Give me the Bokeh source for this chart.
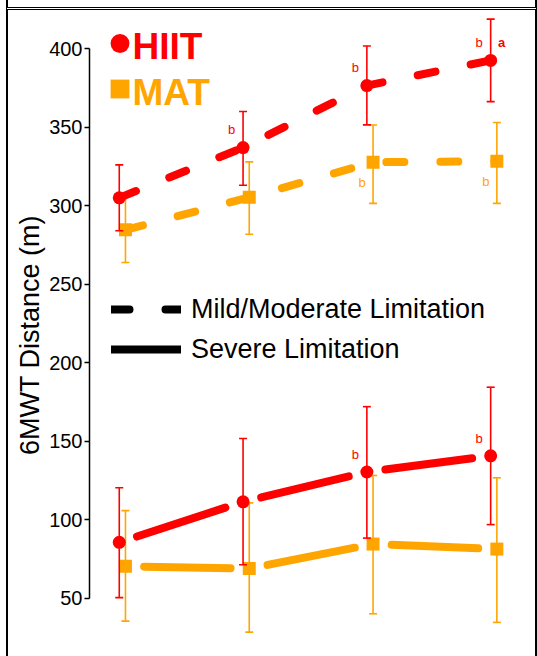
import math
from bokeh.plotting import figure
from bokeh.models import ColumnDataSource, FixedTicker, Legend, LegendItem, Range1d, Label
from bokeh.core.properties import value
from bokeh.embed import file_html
from bokeh.resources import INLINE

# ---------------- data ----------------
times = [1, 2, 3, 4]

mild_hiit = [305.0, 337.0, 376.5, 392.5]
mild_hiit_lo = [284.0, 313.0, 351.5, 366.3]
mild_hiit_hi = [326.0, 360.0, 401.7, 418.8]

mild_mat = [284.6, 305.3, 327.7, 328.3]
mild_mat_lo = [263.8, 281.8, 301.5, 301.5]
mild_mat_hi = [306.0, 327.9, 351.4, 353.0]

sev_hiit = [85.6, 111.4, 130.4, 140.7]
sev_hiit_lo = [50.4, 71.3, 88.3, 96.9]
sev_hiit_hi = [120.4, 151.7, 172.0, 184.4]

sev_mat = [70.3, 68.9, 84.5, 81.3]
sev_mat_lo = [35.4, 28.4, 40.1, 34.6]
sev_mat_hi = [105.8, 110.7, 128.2, 126.7]

mild_hiit_sig = ["", "b", "b", "b"]
mild_hiit_sig_a = ["", "", "", "a"]
mild_mat_sig = ["", "", "b", "b"]
sev_hiit_sig = ["", "", "b", "b"]

y_ticks = [50, 100, 150, 200, 250, 300, 350, 400]
y_label = "6MWT Distance (m)"
group_names = ["HIIT", "MAT"]
limit_names = ["Mild/Moderate Limitation", "Severe Limitation"]

# ---------------- style / layout ----------------
RED = "#FF0000"
ORANGE = "#FFA500"
FONT = "Liberation Sans"
MAT_SHIFT = 0.05

LEFT = 8                   # page x of canvas left edge
TOP = 10                   # page y of canvas top edge
CW = 527                   # canvas width
CH = 656 - TOP             # canvas height
MBL = 89 - LEFT            # space for the y axis
FRAME_W = CW - MBL
FRAME_H = CH
X0 = 1 - (118.5 - 89) / 122.7
X1 = X0 + FRAME_W / 122.7
Y1 = 400 + (48 - TOP) / 1.5629
Y0 = Y1 - FRAME_H / 1.5629
PX_X = FRAME_W / (X1 - X0)
PX_Y = FRAME_H / (Y1 - Y0)

p = figure(width=CW, height=CH, output_backend="svg", toolbar_location=None,
           x_range=Range1d(X0, X1), y_range=Range1d(Y0, Y1),
           x_axis_location=None, min_border_left=MBL, min_border_right=0,
           min_border_top=0, min_border_bottom=0)
p.styles = {"box-sizing": "content-box", "margin-left": "6px", "margin-top": "7px",
            "border-top": "3px double black", "border-left": "2px solid black",
            "border-right": "2px solid black",
            "box-shadow": "0 -9px 0 -2px white, 0 -7px 0 0 black"}
p.outline_line_color = None
p.xgrid.visible = False
p.ygrid.visible = False
p.background_fill_color = "white"
p.border_fill_color = "white"

ax = p.yaxis[0]
ax.ticker = FixedTicker(ticks=y_ticks)
ax.bounds = (min(y_ticks), max(y_ticks))
ax.major_tick_out = 5
ax.major_tick_in = 0
ax.minor_tick_out = 0
ax.minor_tick_in = 0
ax.axis_line_width = 1.5
ax.axis_line_color = "black"
ax.major_tick_line_width = 1.5
ax.major_tick_line_color = "black"
ax.major_label_text_font = FONT
ax.major_label_text_font_size = "20px"
ax.major_label_text_color = "black"
ax.major_label_standoff = 2
ax.axis_label = y_label
ax.axis_label_text_font = FONT
ax.axis_label_text_font_size = "27px"
ax.axis_label_text_font_style = "normal"
ax.axis_label_text_color = "black"
ax.axis_label_standoff = 1


def gapped(xs, ys, gap=18.5):
    x0s, y0s, x1s, y1s = [], [], [], []
    for i in range(len(xs) - 1):
        dx = (xs[i + 1] - xs[i]) * PX_X
        dy = (ys[i + 1] - ys[i]) * PX_Y
        f = gap / math.hypot(dx, dy)
        x0s.append(xs[i] + (xs[i + 1] - xs[i]) * f)
        y0s.append(ys[i] + (ys[i + 1] - ys[i]) * f)
        x1s.append(xs[i + 1] - (xs[i + 1] - xs[i]) * f)
        y1s.append(ys[i + 1] - (ys[i + 1] - ys[i]) * f)
    return dict(x0=x0s, y0=y0s, x1=x1s, y1=y1s)


def draw_series(xs, mild, mlo, mhi, sev, slo, shi, color, marker):
    p.line(xs, mild, line_color=color, line_width=8, line_dash="18 36",
           line_cap="round", line_join="round")
    p.segment(source=ColumnDataSource(gapped(xs, sev)), x0="x0", y0="y0", x1="x1", y1="y1",
              line_color=color, line_width=8, line_cap="round")
    rends = []
    for m, lo, hi in ((mild, mlo, mhi), (sev, slo, shi)):
        p.segment(x0=xs, y0=lo, x1=xs, y1=hi, line_color=color, line_width=1.6)
        p.scatter(xs + xs, lo + hi, marker="dash", size=8, line_color=color, line_width=1.6)
        r = p.scatter(xs, m, marker=marker, size=13, fill_color=color, line_color=color, line_width=0)
        rends.append(r)
    return rends


mat_x = [t + MAT_SHIFT for t in times]
mat_r = draw_series(mat_x, mild_mat, mild_mat_lo, mild_mat_hi,
                    sev_mat, sev_mat_lo, sev_mat_hi, ORANGE, "square")
hiit_r = draw_series(times, mild_hiit, mild_hiit_lo, mild_hiit_hi,
                     sev_hiit, sev_hiit_lo, sev_hiit_hi, RED, "circle")

# significance letters
txt = dict(text_font=value(FONT), text_font_size="13px", text_align="center",
           text_baseline="middle")
p.text(times, mild_hiit, text=mild_hiit_sig, x_offset=-11.5, y_offset=-18,
       text_color=RED, **txt)
p.text(times, mild_hiit, text=mild_hiit_sig_a, x_offset=11, y_offset=-18,
       text_color=RED, text_font_style="bold", **txt)
p.text(times, sev_hiit, text=sev_hiit_sig, x_offset=-11.5, y_offset=-17,
       text_color=RED, **txt)
p.text(mat_x, mild_mat, text=mild_mat_sig, x_offset=-11, y_offset=20,
       text_color=ORANGE, **txt)

# legends: groups (marker from a legend, name as a label next to it)
for name, rend, color, ctr in ((group_names[0], hiit_r[0], RED, 43),
                               (group_names[1], mat_r[0], ORANGE, 88.5)):
    gh = int(round(2 * (ctr - TOP - 7)))
    lg = Legend(items=[LegendItem(label=" ", renderers=[rend])], location="top_left",
                margin=7, padding=0, glyph_width=47, glyph_height=gh,
                label_standoff=0, label_text_font_size="10px",
                background_fill_alpha=0, border_line_color=None)
    p.add_layout(lg)
    p.add_layout(Label(x=132 - 89, y=FRAME_H - (ctr - TOP), x_units="screen", y_units="screen",
                       text=name, text_font=FONT, text_font_size="37px",
                       text_font_style="bold", text_color=color, text_baseline="middle"))

# legend: limitation line types (hidden black copies of the lines)
d_dash = p.line(times, mild_hiit, line_color="black", line_width=8, line_dash="18 36",
                line_cap="round", visible=False)
d_solid = p.line(times, sev_hiit, line_color="black", line_width=8, line_cap="round",
                 visible=False)
LEG_H = 34 + 6 + 34
lg2 = Legend(items=[LegendItem(label=limit_names[0], renderers=[d_dash]),
                    LegendItem(label=limit_names[1], renderers=[d_solid])],
             location=(111 - 89, FRAME_H - (289 - TOP) - LEG_H), padding=0, margin=0,
             spacing=6, glyph_width=70, glyph_height=34, label_height=34, label_standoff=10,
             label_text_font=FONT, label_text_font_size="27px", label_text_color="black",
             background_fill_alpha=0, border_line_color=None,
             inactive_fill_alpha=0)
p.add_layout(lg2)

open("out.html", "w").write(file_html(p, INLINE))
